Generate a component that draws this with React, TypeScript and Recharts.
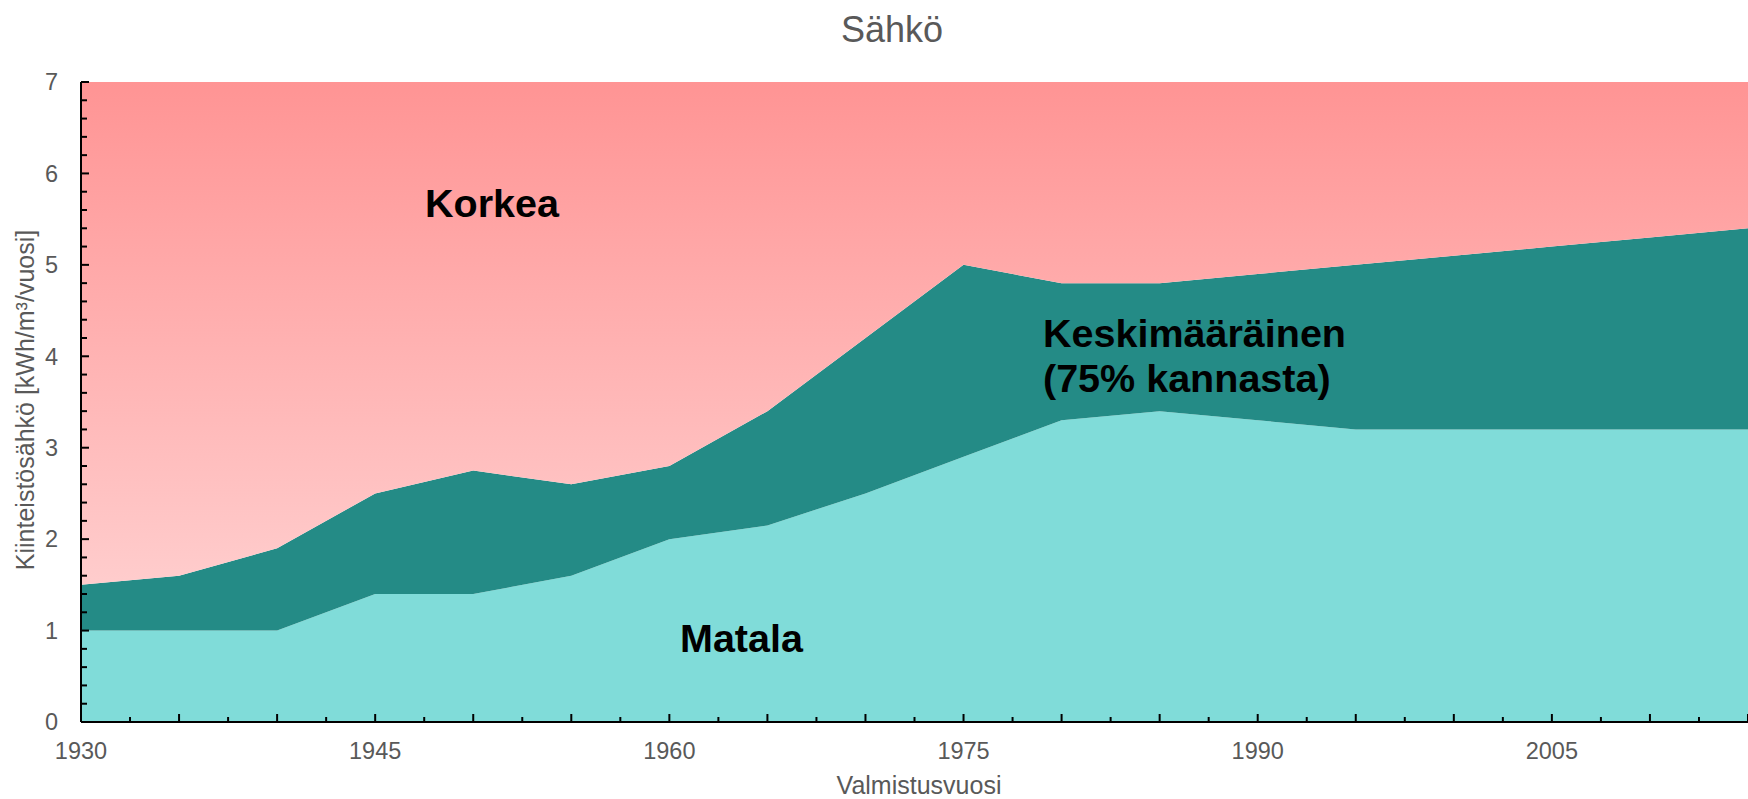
import { AreaChart, Area, XAxis, YAxis } from "recharts";

// valmistusvuodet
const years = [1930, 1935, 1940, 1945, 1950, 1955, 1960, 1965, 1970, 1975, 1980, 1985, 1990, 1995, 2000, 2005, 2010, 2015];
// alaraja (Matala / Keskimääräinen raja)
const matala = [1.0, 1.0, 1.0, 1.4, 1.4, 1.6, 2.0, 2.15, 2.5, 2.9, 3.3, 3.4, 3.3, 3.2, 3.2, 3.2, 3.2, 3.2];
// yläraja (Keskimääräinen / Korkea raja)
const keskiYla = [1.5, 1.6, 1.9, 2.5, 2.75, 2.6, 2.8, 3.4, 4.2, 5.0, 4.8, 4.8, 4.9, 5.0, 5.1, 5.2, 5.3, 5.4];
const yMax = 7;

const xLabels = [1930, 1945, 1960, 1975, 1990, 2005];
const yLabels = [0, 1, 2, 3, 4, 5, 6, 7];
const xTicks = Array.from({ length: 35 }, (_, i) => 1930 + i * 2.5);
const yTicks = Array.from({ length: 36 }, (_, i) => Math.round(i * 2) / 10);

const data = years.map((year, i) => ({
    year,
    matala: matala[i],
    keski: keskiYla[i] - matala[i],
    korkea: yMax - keskiYla[i],
}));

const grey = "#595959";
const font = "'Liberation Sans', Arial, sans-serif";

const XTick = (props: any) => {
    const { x, y, payload } = props;
    const v = payload.value;
    const major = Math.abs(v % 5) < 1e-6;
    return (
        <g>
            <line x1={x} x2={x} y1={y} y2={y - (major ? 8 : 5)} stroke="#000" strokeWidth={2} />
            {xLabels.includes(v) && (
                <text x={x} y={y + 37} textAnchor="middle" fill={grey} fontSize={23.5} fontFamily={font}>
                    {v}
                </text>
            )}
        </g>
    );
};

const YTick = (props: any) => {
    const { x, y, payload } = props;
    const v = payload.value;
    const major = yLabels.includes(v);
    return (
        <g>
            <line x1={x} x2={x + (major ? 8 : 6)} y1={y} y2={y} stroke="#000" strokeWidth={2} />
            {major && (
                <text x={x - 23} y={y} dy="0.35em" textAnchor="end" fill={grey} fontSize={23.5} fontFamily={font}>
                    {v}
                </text>
            )}
        </g>
    );
};

export default function App() {
    return (
        <div style={{ position: "absolute", left: 0, top: 0, width: 1748, height: 799, background: "#fff", fontFamily: font }}>
            <AreaChart width={1748} height={799} data={data} margin={{ top: 82, right: 0, bottom: 0, left: 0 }}>
                <defs>
                    <linearGradient id="korkeaGrad" gradientUnits="userSpaceOnUse" x1={0} y1={82} x2={0} y2={722}>
                        <stop offset="0%" stopColor="#ff9494" />
                        <stop offset="100%" stopColor="#ffdcdc" />
                    </linearGradient>
                </defs>
                <Area type="linear" dataKey="matala" stackId="a" fill="#80dcd9" fillOpacity={1} stroke="none" isAnimationActive={false} />
                <Area type="linear" dataKey="keski" stackId="a" fill="#248b86" fillOpacity={1} stroke="none" isAnimationActive={false} />
                <Area type="linear" dataKey="korkea" stackId="a" fill="url(#korkeaGrad)" fillOpacity={1} stroke="none" isAnimationActive={false} />
                <XAxis
                    dataKey="year"
                    type="number"
                    domain={[1930, 2015]}
                    ticks={xTicks}
                    interval={0}
                    height={77}
                    tickSize={0}
                    tickMargin={0}
                    tick={<XTick />}
                    axisLine={{ stroke: "#000", strokeWidth: 2 }}
                    allowDataOverflow
                />
                <YAxis
                    type="number"
                    domain={[0, yMax]}
                    ticks={yTicks}
                    interval={0}
                    width={81}
                    tickSize={0}
                    tickMargin={0}
                    tick={<YTick />}
                    axisLine={{ stroke: "#000", strokeWidth: 2 }}
                    allowDataOverflow
                />
                <text x={892} y={42} textAnchor="middle" fill={grey} fontSize={36} fontFamily={font}>
                    Sähkö
                </text>
                <text x={919} y={794} textAnchor="middle" fill={grey} fontSize={25} fontFamily={font}>
                    Valmistusvuosi
                </text>
                <text
                    x={25}
                    y={400}
                    transform="rotate(-90 25 400)"
                    textAnchor="middle"
                    dy="0.35em"
                    fill={grey}
                    fontSize={25}
                    fontFamily={font}
                >
                    Kiinteistösähkö [kWh/m³/vuosi]
                </text>
            </AreaChart>

            {/* annotations on top of the areas */}
            <svg
                width={1748}
                height={799}
                style={{ position: "absolute", left: 0, top: 0, pointerEvents: "none" }}
            >
                <g fontFamily={font} fontWeight="bold" fontSize={39.5} fill="#000">
                    <text x={425} y={217}>Korkea</text>
                    <text x={1043} y={347}>Keskimääräinen</text>
                    <text x={1043} y={392}>(75% kannasta)</text>
                    <text x={680} y={652}>Matala</text>
                </g>
            </svg>
        </div>
    );
}
